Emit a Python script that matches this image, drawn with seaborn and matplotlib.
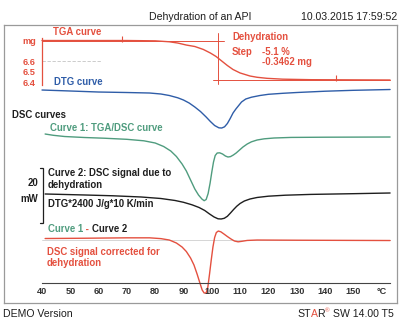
import matplotlib
matplotlib.use("Agg")
import matplotlib.pyplot as plt
import seaborn as sns
import pandas as pd

# ---------------- data ----------------
# TGA curve, mg
tga_temp = [40, 70, 80, 85, 88, 91, 94, 97, 99.5, 101.5, 103.5, 105.5, 107.5, 110, 113.5, 116, 119.5, 125, 135, 163]
tga_mg = [6.795, 6.795, 6.792, 6.783, 6.771, 6.752, 6.738, 6.710, 6.676, 6.643, 6.600, 6.557, 6.519, 6.486, 6.457,
          6.445, 6.435, 6.427, 6.422, 6.419]

# DTG curve (displayed at the mW scale), relative to its baseline
dtg_temp = [40, 50, 60, 70, 78, 82, 85, 88, 90, 92, 94, 96, 98, 99.5, 101, 102.5, 103.5, 104.5, 105.5, 106.5, 107.5,
            108.5, 109.5, 110.5, 112, 114, 117, 120, 125, 130, 140, 150, 163]
dtg_val = [0, -0.36, -0.73, -0.91, -1.09, -1.45, -2.0, -2.84, -3.64, -4.73, -6.18, -7.82, -9.82, -11.45, -12.91, -13.75,
           -13.82, -13.38, -12.18, -10.36, -8.36, -6.91, -5.64, -4.36, -3.27, -2.62, -2.0, -1.56, -1.2, -0.91, -0.44,
           -0.11, 0.18]

# Curve 1: TGA/DSC curve, mW
dsc1_temp = [41.1, 44, 48, 55, 62, 70, 76, 80, 83, 85.5, 87.5, 89.5, 91, 92.5, 94, 95.3, 96.5, 97.3, 98, 98.7, 99.4,
             100, 100.6, 101.2, 101.9, 102.8, 103.8, 104.8, 105.7, 106.6, 107.6, 108.6, 109.8, 111, 112.5, 114, 116,
             118.5, 122, 128, 140, 163]
dsc1_mw = [0, -0.47, -0.91, -1.27, -1.53, -1.93, -2.47, -3.27, -4.55, -6.18, -8.18, -10.91, -13.45, -16.73, -20.0,
           -22.18, -23.64, -24.25, -23.82, -21.64, -17.82, -13.82, -10.18, -7.82, -6.91, -6.84, -7.27, -8.0, -8.36,
           -8.22, -7.64, -6.91, -5.82, -4.73, -3.64, -2.84, -2.18, -1.75, -1.45, -1.24, -1.16, -1.09]

# Curve 2: DSC signal due to dehydration (DTG*2400 J/g*10 K/min), mW
dsc2_temp = [41.1, 55, 65, 75, 82, 87, 90, 93, 95.5, 97.5, 99.2, 100.8, 102.2, 103.3, 104.4, 105.5, 106.6, 107.7,
             108.8, 110, 111.5, 113.5, 116, 120, 126, 135, 150, 163]
dsc2_mw = [0, -0.36, -0.65, -1.09, -1.64, -2.36, -3.02, -3.93, -4.91, -6.0, -7.27, -8.36, -9.02, -9.09, -8.84, -8.11,
           -6.91, -5.64, -4.47, -3.45, -2.55, -1.82, -1.27, -0.8, -0.44, -0.15, 0.11, 0.36]

# Curve 1 - Curve 2: DSC signal corrected for dehydration, mW
diff_temp = [41.1, 55, 70, 78, 82, 85, 87.5, 89.5, 91, 92.5, 93.7, 94.8, 95.8, 96.6, 97.3, 98, 98.6, 99.2, 99.8,
             100.4, 101, 101.6, 102.3, 103.2, 104.3, 105.5, 106.8, 108, 109.3, 110.6, 112.5, 116, 130, 163]
diff_mw = [0.55, 0.65, 0.8, 0.8, 0.51, 0, -1.09, -2.55, -4.18, -6.55, -9.09, -12.36, -15.64, -18.18, -19.27, -19.27,
           -17.09, -12.36, -7.27, -2.55, 0.91, 2.73, 3.27, 2.98, 2.18, 1.27, 0.36, -0.36, -0.65, -0.47, -0.15, 0,
           -0.07, -0.18]

x_ticks = [40, 50, 60, 70, 80, 90, 100, 110, 120, 130, 140, 150, 160]
x_tick_labels = ["40", "50", "60", "70", "80", "90", "100", "110", "120", "130", "140", "150", "°C"]
mg_ticks = [6.4, 6.5, 6.6, 6.7, 6.8]
mg_tick_labels = ["6.4", "6.5", "6.6", "", "mg"]

# step evaluation
step_upper_mg = 6.795
step_lower_mg = 6.419
eval_limits = [68.3, 144.0]
scale_bar_mw = 20

# ---------------- layout constants ----------------
W, H = 407, 329
PX_PER_MW = 2.75
off_dtg, off_dsc1, off_dsc2, off_diff = 77.45, 61.45, 39.64, 22.9
XMIN, XMAX = 26.57, 165.44

RED = "#e4503f"
BLUE = "#2f5da8"
GREEN = "#4f9c7e"
BLACK = "#1e1e1e"
FRAME = "#9a9a9a"
LW = 1.0

sns.set_style("white")
plt.rcParams["font.family"] = ["Liberation Sans", "DejaVu Sans"]

fig = plt.figure(figsize=(W / 100, H / 100), dpi=100)
fig.patch.set_facecolor("white")

rect = [4 / W, (H - 303) / H, 393 / W, 278 / H]
ax = fig.add_axes(rect)
ax.set_xticks([])
ax.set_yticks([])
for s in ax.spines.values():
    s.set_color(FRAME)
    s.set_linewidth(0.9)
ax.set_facecolor("white")

# baseline of corrected signal
ax.plot([40, 163], [off_diff, off_diff], color="#cfcfcf", lw=0.6, zorder=1)

def draw(temp, vals, off, color):
    df = pd.DataFrame({"T": temp, "v": [v + off for v in vals]})
    sns.lineplot(data=df, x="T", y="v", ax=ax, color=color, lw=LW, sort=False,
                 estimator=None, legend=False, zorder=3, solid_joinstyle="round")

draw(dtg_temp, dtg_val, off_dtg, BLUE)
draw(dsc1_temp, dsc1_mw, off_dsc1, GREEN)
draw(dsc2_temp, dsc2_mw, off_dsc2, BLACK)
draw(diff_temp, diff_mw, off_diff, RED)
ax.set_xlabel("")
ax.set_ylabel("")
ax.set_xlim(XMIN, XMAX)
ax.set_ylim(0, 278 / PX_PER_MW)

# 20 mW scale bar
top_bar = (303 - 168) / PX_PER_MW
ax.plot([39.3, 40.35, 40.35, 39.3], [top_bar, top_bar, top_bar - scale_bar_mw, top_bar - scale_bar_mw],
        color=BLACK, lw=0.9, solid_joinstyle="miter", clip_on=False)

# ---------------- TGA axes ----------------
axt = fig.add_axes(rect)
axt.patch.set_alpha(0)
for k in ["top", "right", "bottom"]:
    axt.spines[k].set_visible(False)
axt.spines["left"].set_position(("data", 40))
axt.spines["left"].set_bounds(6.37, 6.82)
axt.spines["left"].set_color(RED)
axt.spines["left"].set_linewidth(0.9)

sns.lineplot(x=tga_temp, y=tga_mg, ax=axt, color=RED, lw=LW, sort=False, estimator=None, zorder=3,
             solid_joinstyle="round")
axt.plot([40, 104.3], [step_upper_mg, step_upper_mg], color=RED, lw=0.7)
axt.plot([100.4, 163], [step_lower_mg, step_lower_mg], color=RED, lw=0.7)
axt.plot([102.2, 102.2], [6.867, 6.381], color=RED, lw=0.7)
axt.plot([40, 61], [6.6, 6.6], color="#c4c4c4", lw=0.6, ls=(0, (4, 2)))
axt.plot([eval_limits[0]], [step_upper_mg + 0.01], marker="|", ms=4, mew=0.8, color=RED)
axt.plot([eval_limits[1]], [step_lower_mg + 0.015], marker="|", ms=4, mew=0.8, color=RED)
axt.set_xlabel("")
axt.set_ylabel("")
axt.set_xlim(XMIN, XMAX)
axt.set_ylim(6.4 - (303 - 82) / 105, 6.4 + (82 - 25) / 105)
axt.set_xticks([])
axt.set_yticks(mg_ticks)
axt.set_yticklabels(mg_tick_labels)
axt.set_yticks([6.38 + 0.02 * i for i in range(23)], minor=True)
axt.tick_params(axis="y", which="major", colors=RED, length=3, width=0.7, pad=1.5, labelsize=6.6)
axt.tick_params(axis="y", which="minor", colors=RED, length=1.8, width=0.5)
for lab in axt.get_yticklabels():
    lab.set_fontweight("bold")

# ---------------- x axis ----------------
axx = fig.add_axes([rect[0], (H - 283) / H, rect[2], 0.05])
axx.patch.set_alpha(0)
axx.set_xlim(XMIN, XMAX)
for k in ["top", "right", "left"]:
    axx.spines[k].set_visible(False)
axx.spines["bottom"].set_bounds(40, 163)
axx.spines["bottom"].set_color("#444444")
axx.spines["bottom"].set_linewidth(0.8)
axx.set_yticks([])
axx.set_xticks(x_ticks)
axx.set_xticklabels(x_tick_labels)
axx.set_xticks(list(range(40, 164)), minor=True)
axx.tick_params(axis="x", which="major", direction="in", length=3.2, width=0.7, colors="#333333",
                labelsize=6.6, pad=3)
axx.tick_params(axis="x", which="minor", direction="in", length=2, width=0.5, colors="#444444")
for lab in axx.get_xticklabels():
    lab.set_fontweight("bold")

# ---------------- texts ----------------
def T(x, y, s, color=BLACK, size=6.9, weight="bold", ha="left"):
    return fig.text(x / W, 1 - y / H, s, color=color, fontsize=size, fontweight=weight, ha=ha, va="center")

T(200, 16.5, "Dehydration of an API", size=7.6, weight="normal", ha="center")
T(397, 16.5, "10.03.2015 17:59:52", size=7.6, weight="normal", ha="right")
T(53, 32, "TGA curve", color=RED)
T(54, 82, "DTG curve", color=BLUE)
T(12, 115, "DSC curves")
T(50, 128, "Curve 1: TGA/DSC curve", color=GREEN)
T(48, 173, "Curve 2: DSC signal due to")
T(48, 185, "dehydration")
T(48, 204, "DTG*2400 J/g*10 K/min")
T(38, 183, "20", ha="right")
T(38, 199, "mW", ha="right")
t1 = T(48, 229, "Curve 1", color=GREEN)
t2 = fig.text(0, 0, " - ", color=RED, fontsize=6.9, fontweight="bold")
t3 = fig.text(0, 0, "Curve 2", color=BLACK, fontsize=6.9, fontweight="bold")
T(47, 252, "DSC signal corrected for", color=RED)
T(47, 263, "dehydration", color=RED)
T(232, 37, "Dehydration", color=RED)
T(232, 52, "Step", color=RED)
T(262, 52, "-5.1 %", color=RED)
T(262, 62, "-0.3462 mg", color=RED)
T(3, 314, "DEMO Version", size=7.6, weight="normal")
s1 = T(297, 314, "ST", size=7.6, weight="normal")

fig.canvas.draw()
r = fig.canvas.get_renderer()
def chain(prev, txt):
    bb = prev.get_window_extent(r)
    txt.set_position((bb.x1 / W, prev.get_position()[1]))
    txt.set_va("center")
    txt.set_ha("left")
    return txt
chain(t1, t2)
chain(t2, t3)
s2 = chain(s1, fig.text(0, 0, "A", color=RED, fontsize=7.6))
s3 = chain(s2, fig.text(0, 0, "R", color=BLACK, fontsize=7.6))
bb = s3.get_window_extent(r)
s4 = fig.text(bb.x1 / W, 1 - 311 / H, "®", color=RED, fontsize=4.5, ha="left", va="center")
bb = s4.get_window_extent(r)
fig.text(bb.x1 / W, 1 - 314 / H, " SW 14.00 T5", color=BLACK, fontsize=7.6, ha="left", va="center")

fig.savefig("out.png", dpi=100, facecolor="white")
